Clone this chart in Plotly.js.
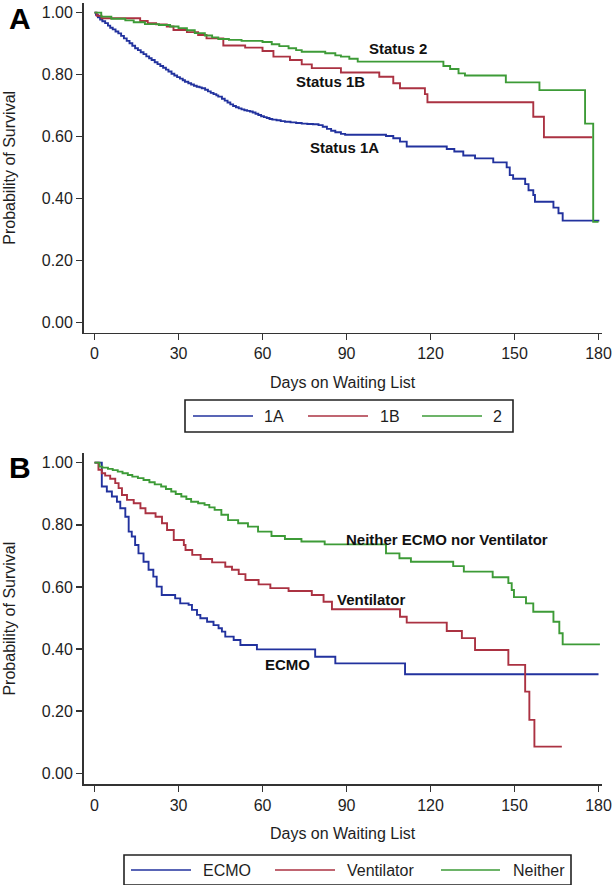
<!DOCTYPE html>
<html>
<head>
<meta charset="utf-8">
<script src="https://cdn.plot.ly/plotly-3.0.1.min.js"></script>
<style>
  html, body { margin:0; padding:0; background:#fff; }
  #chart { width:612px; height:885px; }
</style>
</head>
<body>
<div id="chart"></div>
<script>
// ── Data (Kaplan-Meier, step curves) ─────────────────────────────────────────
const DAY_TICKS  = [0, 30, 60, 90, 120, 150, 180];
const SURV_TICKS = [0, 0.2, 0.4, 0.6, 0.8, 1.0];

// Panel A — listing status
const STATUS_NAMES  = ['1A', '1B', '2'];
const STATUS_LABELS = ['Status 1A', 'Status 1B', 'Status 2'];

const s1A_days = [0,0.5,1.2,2,2.8,3.8,4.8,5.6,6.5,7.5,8.5,9.5,10.5,11.5,12.5,13.5,14.5,15.5,16.5,17.5,
  18.5,19.5,20.4,21.5,22.5,23.5,24.5,25.5,26.4,27.5,28.5,29.5,30.5,31.5,32.3,33.5,34.5,35.5,36.5,37.5,
  38.3,39.5,40.5,41.5,42.5,43.5,44.2,45.5,46.5,47.5,48.5,49.5,50.5,51.5,52.5,53.5,54.5,55.5,56.5,57.5,
  58.5,59.5,60.5,61.5,62.5,63.5,65,66.5,68,70,72,74,76,78,80,81.5,83,84.5,86,88,89.5,
  104.1,106.7,109.1,111.5,125.8,128.5,131.7,135.9,142.4,147.2,148.3,149.5,153.8,155,156.7,157.3,
  163.9,165.7,167.2,180.3];
const s1A_surv = [1,0.993,0.985,0.978,0.972,0.966,0.958,0.951,0.946,0.939,0.933,0.925,0.917,0.909,0.901,0.893,0.885,0.879,0.872,0.866,
  0.859,0.853,0.847,0.84,0.834,0.828,0.822,0.816,0.81,0.803,0.797,0.792,0.787,0.782,0.777,0.772,0.768,0.764,0.761,0.759,
  0.756,0.751,0.746,0.741,0.737,0.733,0.729,0.722,0.716,0.71,0.704,0.699,0.695,0.691,0.688,0.685,0.683,0.681,0.678,0.674,
  0.67,0.666,0.663,0.66,0.657,0.655,0.653,0.65,0.648,0.646,0.644,0.642,0.641,0.64,0.637,0.632,0.625,0.619,0.614,0.609,0.606,
  0.602,0.595,0.584,0.568,0.56,0.552,0.539,0.53,0.517,0.501,0.476,0.464,0.447,0.427,0.412,0.39,
  0.371,0.353,0.329,0.329];

const s1B_days = [0,0.8,2.5,16.3,19,22,25.8,28.2,33,37,40,46,53.8,60,63.9,69.8,74,77.6,88,
  101.7,106.7,109.1,118,118.9,156.7,160.5,177.8];
const s1B_surv = [1,0.99,0.982,0.973,0.966,0.962,0.955,0.944,0.937,0.928,0.917,0.894,0.887,0.876,0.858,0.847,0.833,0.821,0.807,
  0.793,0.772,0.756,0.737,0.711,0.664,0.598,0.598];

const s2_days = [0,2.4,6,11,14,18,23,27,30,33,35.8,39.4,42,44.2,48,52.5,60,63.3,66,69.3,72,74,82.4,86,88,91,94,
  124.6,127,130,132.3,146.9,158.9,175.2,178.1,180];
const s2_surv = [1,0.987,0.98,0.975,0.969,0.963,0.96,0.955,0.95,0.943,0.934,0.926,0.92,0.915,0.912,0.909,0.905,0.898,0.892,0.885,0.879,0.874,0.869,0.862,0.858,0.851,0.842,
  0.828,0.818,0.804,0.797,0.775,0.75,0.642,0.325,0.325];

// Panel B — support at listing
const SUPPORT_NAMES  = ['ECMO', 'Ventilator', 'Neither'];
const SUPPORT_LABELS = ['ECMO', 'Ventilator', 'Neither ECMO nor Ventilator'];

const ecmo_days = [0,2.6,4.4,6.2,8,9.2,11,12.2,13.3,14.5,15.7,17.5,19.3,21,22.2,24,28.8,30.6,33.6,34.8,36.6,37.8,
  40.2,42.5,44.3,45.5,46.7,49.7,52.1,58,78.8,86,110.9,180];
const ecmo_surv = [1,0.923,0.907,0.891,0.874,0.853,0.826,0.778,0.762,0.735,0.708,0.681,0.655,0.633,0.601,0.574,0.563,0.547,0.542,0.526,0.51,0.499,
  0.488,0.477,0.467,0.456,0.44,0.429,0.413,0.399,0.375,0.354,0.319,0.319];

const vent_days = [0,1.4,2.6,3.8,5.6,7.4,8.6,9.8,11.6,14,16.4,18.2,21.8,24.1,25.9,28.3,31.9,32.5,34.9,37.9,42,46.7,
  49.1,51.5,53.9,58.6,62.8,69.3,77.6,81.8,84.8,109.1,111.5,125.8,131.2,135.9,147.8,153.8,155.3,157.1,166.9];
const vent_surv = [1,0.977,0.966,0.958,0.948,0.934,0.918,0.896,0.88,0.869,0.853,0.837,0.826,0.805,0.783,0.751,0.735,0.719,0.703,0.69,0.679,0.665,
  0.655,0.641,0.622,0.608,0.596,0.587,0.574,0.552,0.528,0.504,0.485,0.458,0.435,0.397,0.349,0.263,0.172,0.086,0.086];

const neither_days = [0,1.8,2.8,4.8,6.5,8.3,10,11.9,13.5,15.5,17.5,19.6,21.5,23.8,25.5,27.4,29,31,32.8,34.5,37,39.3,41,42.9,
  45.3,47.7,51.3,54.8,58.4,63.2,68,73.9,82.2,104.1,108.9,113,128.1,131.9,142.2,147.8,149,149.8,154.1,156.7,
  163.9,166,167.2,180.5];
const neither_surv = [1,0.987,0.984,0.98,0.976,0.971,0.966,0.96,0.955,0.95,0.944,0.937,0.93,0.923,0.915,0.907,0.899,0.891,0.883,0.874,0.869,0.864,0.856,0.848,
  0.832,0.815,0.805,0.794,0.778,0.764,0.754,0.746,0.737,0.708,0.692,0.681,0.667,0.649,0.631,0.612,0.59,0.567,0.547,0.52,
  0.488,0.451,0.415,0.415];

// ── Styling ───────────────────────────────────────────────────────────────────
const COLS = ['#22329e', '#ab3242', '#3d9b37'];
const FONT = 'Liberation Sans, Arial, sans-serif';
const INK  = '#1e1e1e';
const W = 612, H = 885;
const px = x => x / W;          // pixel → paper helpers for decorations
const py = y => 1 - y / H;

function stepTrace(xs, ys, name, col, xa, ya) {
  return { x:xs, y:ys, mode:'lines', name, xaxis:xa, yaxis:ya,
           line:{ color:col, width:1.9, shape:'hv' }, showlegend:false, hoverinfo:'skip' };
}

const XAX = {
  range:[-3.9, 181.1], tickvals:DAY_TICKS, ticks:'outside', ticklen:6, tickwidth:1.5,
  tickcolor:'#333', showline:true, linecolor:'#333', linewidth:1.5, showgrid:false, zeroline:false,
  tickfont:{ family:FONT, size:16, color:INK }, automargin:false,
  title:{ text:'Days on Waiting List', font:{ family:FONT, size:16, color:INK }, standoff:15 },
};
const YAX = {
  tickvals:SURV_TICKS, tickformat:'.2f', ticks:'outside', ticklen:6, tickwidth:1.5,
  tickcolor:'#333', showline:true, linecolor:'#333', linewidth:1.5, showgrid:false, zeroline:false,
  tickfont:{ family:FONT, size:16, color:INK }, automargin:false,
  title:{ text:'Probability of Survival', font:{ family:FONT, size:16, color:INK }, standoff:22 },
};

// ── Custom legend (long line keys, boxed) ────────────────────────────────────
function legendBox(x0, x1, y0, y1, keys, names, shapes, annos) {
  shapes.push({ type:'rect', xref:'paper', yref:'paper', x0:px(x0), x1:px(x1), y0:py(y1), y1:py(y0),
                line:{ color:'#222', width:1.6 }, fillcolor:'rgba(0,0,0,0)' });
  const ymid = (y0 + y1) / 2;
  keys.forEach((k, i) => {
    shapes.push({ type:'line', xref:'paper', yref:'paper', x0:px(k[0]), x1:px(k[1]), y0:py(ymid), y1:py(ymid),
                  line:{ color:COLS[i], width:1.4 } });
    annos.push({ xref:'paper', yref:'paper', x:px(k[2]), y:py(ymid), xanchor:'left', yanchor:'middle',
                 text:names[i], showarrow:false, font:{ family:FONT, size:16, color:INK } });
  });
}

const traces = [
  stepTrace(s1A_days, s1A_surv, STATUS_NAMES[0], COLS[0], 'x', 'y'),
  stepTrace(s1B_days, s1B_surv, STATUS_NAMES[1], COLS[1], 'x', 'y'),
  stepTrace(s2_days,  s2_surv,  STATUS_NAMES[2], COLS[2], 'x', 'y'),
  stepTrace(ecmo_days,    ecmo_surv,    SUPPORT_NAMES[0], COLS[0], 'x2', 'y2'),
  stepTrace(vent_days,    vent_surv,    SUPPORT_NAMES[1], COLS[1], 'x2', 'y2'),
  stepTrace(neither_days, neither_surv, SUPPORT_NAMES[2], COLS[2], 'x2', 'y2'),
];

const shapes = [], annos = [];
legendBox(185, 513, 400, 432, [[193,253,262],[308,368,378],[422,482,491]], STATUS_NAMES, shapes, annos);
legendBox(124, 571, 855, 885, [[131,191,201],[275,335,345],[441,500,511]], SUPPORT_NAMES, shapes, annos);

// curve labels, placed in data space
const LBL = { family:FONT, size:15, color:'#111' };
[[108.3,0.883,STATUS_LABELS[2]], [84.3,0.777,STATUS_LABELS[1]], [89.2,0.565,STATUS_LABELS[0]]].forEach(a =>
  annos.push({ xref:'x', yref:'y', x:a[0], y:a[1], text:'<b>'+a[2]+'</b>', showarrow:false, font:LBL }));
[[126,0.753,SUPPORT_LABELS[2]], [98.9,0.561,SUPPORT_LABELS[1]], [68.75,0.35,SUPPORT_LABELS[0]]].forEach(a =>
  annos.push({ xref:'x2', yref:'y2', x:a[0], y:a[1], text:'<b>'+a[2]+'</b>', showarrow:false, font:LBL }));

// panel letters
[['A',18.5],['B',467]].forEach(p =>
  annos.push({ xref:'paper', yref:'paper', x:px(20), y:py(p[1]), text:'<b>'+p[0]+'</b>', showarrow:false,
               xanchor:'center', yanchor:'middle', font:{ family:FONT, size:30, color:'#000' } }));

Plotly.newPlot('chart', traces, {
  width:W, height:H, margin:{ t:0, r:0, b:0, l:0 },
  paper_bgcolor:'#fff', plot_bgcolor:'#fff', showlegend:false,
  font:{ family:FONT, color:INK },
  xaxis: { ...XAX, domain:[px(83.6), px(601.6)], anchor:'y' },
  yaxis: { ...YAX, domain:[py(332.7), py(3)], range:[-0.0323, 1.031], anchor:'x' },
  xaxis2:{ ...XAX, domain:[px(83.6), px(601.6)], anchor:'y2' },
  yaxis2:{ ...YAX, domain:[py(784), py(453.3)], range:[-0.0344, 1.030], anchor:'x2' },
  shapes, annotations:annos,
}, { displayModeBar:false, staticPlot:true });
</script>
</body>
</html>
